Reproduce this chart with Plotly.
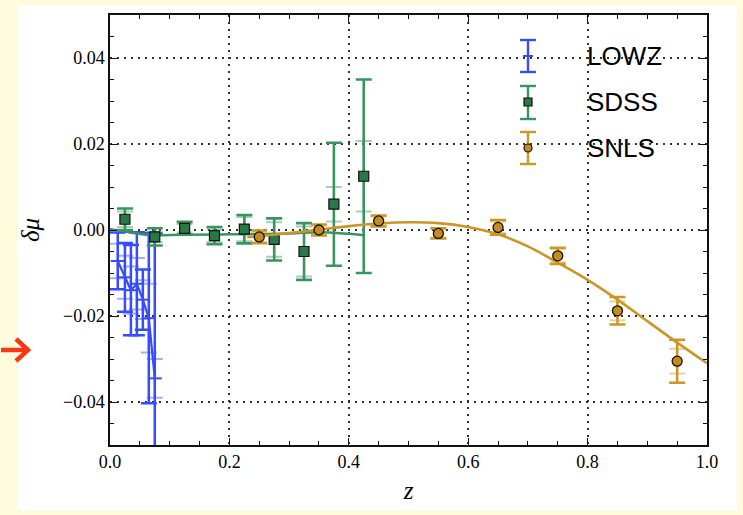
import plotly.graph_objects as go

# ---- data -------------------------------------------------------------
# LOWZ sample (binned), total and statistical error
lowz_z = [0.013, 0.025, 0.035, 0.045, 0.055, 0.065, 0.075]
lowz_dmu = [-0.0072, -0.0110, -0.0140, -0.0125, -0.0162, -0.0205, -0.0345]
lowz_err = [0.0066, 0.0080, 0.0105, 0.0120, 0.0070, 0.0198, 0.0337]
lowz_err_in = [0.0040, 0.0050, 0.0055, 0.0060, 0.0045, 0.0080, 0.0045]

# SDSS sample
sdss_z = [0.025, 0.075, 0.125, 0.175, 0.225, 0.275, 0.325, 0.375, 0.425]
sdss_dmu = [0.0025, -0.0016, 0.0004, -0.0013, 0.0002, -0.0022, -0.0050, 0.0060, 0.0125]
sdss_err = [0.0025, 0.0020, 0.0015, 0.0020, 0.0033, 0.0049, 0.0066, 0.0143, 0.0225]
sdss_err_in = [0.0018, 0.0012, 0.0010, 0.0015, 0.0028, 0.0040, 0.0058, 0.0040, 0.0082]

# SNLS sample
snls_z = [0.25, 0.35, 0.45, 0.55, 0.65, 0.75, 0.85, 0.95]
snls_dmu = [-0.0016, 0.0000, 0.0021, -0.0008, 0.0006, -0.0060, -0.0188, -0.0305]
snls_err = [0.0015, 0.0013, 0.0013, 0.0012, 0.0017, 0.0019, 0.0032, 0.0050]
snls_err_in = [0.0012, 0.0010, 0.0010, 0.0010, 0.0013, 0.0015, 0.0022, 0.0029]

# smooth model curves
sdss_fit_z = [0.0, 0.02, 0.04, 0.06, 0.08, 0.12, 0.20, 0.30, 0.35, 0.40, 0.425]
sdss_fit = [0.0002, -0.0002, -0.0007, -0.0011, -0.0012, -0.0011, -0.0010, -0.0008, -0.0005, -0.0009, -0.0012]

snls_fit_z = [0.23, 0.25, 0.30, 0.35, 0.40, 0.45, 0.50, 0.55, 0.60, 0.65,
              0.70, 0.75, 0.80, 0.85, 0.90, 0.95, 1.00]
snls_fit = [-0.0017, -0.0014, -0.0007, 0.0001, 0.0009, 0.0015, 0.0018, 0.0016, 0.0007, -0.0010,
            -0.0038, -0.0076, -0.0116, -0.0162, -0.0212, -0.0262, -0.0310]

labels = ["LOWZ", "SDSS", "SNLS"]
x_ticks = [0.0, 0.2, 0.4, 0.6, 0.8, 1.0]
y_ticks = [-0.04, -0.02, 0.00, 0.02, 0.04]

# ---- styling ----------------------------------------------------------
BLUE = "rgb(55,75,255)"
BLUE_L = "rgba(55,75,255,0.45)"
GREEN = "rgb(58,148,98)"
GREEN_L = "rgba(58,148,98,0.45)"
GREEN_FILL = "rgb(40,120,72)"
GOLD = "rgb(204,150,38)"
GOLD_L = "rgba(204,150,38,0.45)"
GOLD_FILL = "rgb(196,140,30)"

W, H = 743, 515
ML, MR, MT, MB = 110, 36, 15, 70
PW, PH = W - ML - MR, H - MT - MB


def px(x):
    return (x - ML) / PW


def py(y):
    return (MT + PH - y) / PH


fig = go.Figure()

# LOWZ
fig.add_trace(go.Scatter(
    x=lowz_z, y=lowz_dmu, mode="markers",
    marker=dict(size=1, opacity=0),
    error_y=dict(type="data", array=lowz_err_in, color=BLUE_L, thickness=2, width=8),
    showlegend=False, hoverinfo="skip"))
fig.add_trace(go.Scatter(
    x=lowz_z, y=lowz_dmu, mode="lines+markers", name=labels[0],
    line=dict(color=BLUE, width=2.2),
    marker=dict(symbol="line-ew", size=10, line=dict(color=BLUE, width=2)),
    error_y=dict(type="data", array=lowz_err, color=BLUE, thickness=2.5, width=8),
    showlegend=False))

# SDSS
fig.add_trace(go.Scatter(
    x=sdss_fit_z, y=sdss_fit, mode="lines", line=dict(color=GREEN, width=2.5, shape="spline"),
    showlegend=False, hoverinfo="skip"))
fig.add_trace(go.Scatter(
    x=sdss_z, y=sdss_dmu, mode="markers",
    marker=dict(size=1, opacity=0),
    error_y=dict(type="data", array=sdss_err_in, color=GREEN_L, thickness=2, width=8),
    showlegend=False, hoverinfo="skip"))
fig.add_trace(go.Scatter(
    x=sdss_z, y=sdss_dmu, mode="markers", name=labels[1],
    marker=dict(symbol="square", size=10, color=GREEN_FILL, line=dict(color="#111", width=1.2)),
    error_y=dict(type="data", array=sdss_err, color=GREEN, thickness=2.6, width=8),
    showlegend=False))

# SNLS
fig.add_trace(go.Scatter(
    x=snls_fit_z, y=snls_fit, mode="lines", line=dict(color=GOLD, width=2.6, shape="spline"),
    showlegend=False, hoverinfo="skip"))
fig.add_trace(go.Scatter(
    x=snls_z, y=snls_dmu, mode="markers",
    marker=dict(size=1, opacity=0),
    error_y=dict(type="data", array=snls_err_in, color=GOLD_L, thickness=2, width=8),
    showlegend=False, hoverinfo="skip"))
fig.add_trace(go.Scatter(
    x=snls_z, y=snls_dmu, mode="markers", name=labels[2],
    marker=dict(symbol="circle", size=10, color=GOLD_FILL, line=dict(color="#111", width=1.3)),
    error_y=dict(type="data", array=snls_err, color=GOLD, thickness=2.5, width=8),
    showlegend=False))

# ---- legend (drawn as error-bar keys + text) --------------------------
shapes = []
annotations = []
key_x = 528
key_rows = [(56, 40, 72, BLUE, None), (102, 86, 119, GREEN, ("rect", GREEN_FILL)),
            (148, 132, 164, GOLD, ("circle", GOLD_FILL))]
for (yc, y0, y1, col, mk), lab in zip(key_rows, labels):
    shapes.append(dict(type="line", xref="paper", yref="paper",
                       x0=px(key_x), x1=px(key_x), y0=py(y0), y1=py(y1),
                       line=dict(color=col, width=2.4)))
    for yy in (y0, y1):
        shapes.append(dict(type="line", xref="paper", yref="paper",
                           x0=px(key_x - 8), x1=px(key_x + 8), y0=py(yy), y1=py(yy),
                           line=dict(color=col, width=2.4)))
    if mk is None:
        shapes.append(dict(type="line", xref="paper", yref="paper",
                           x0=px(key_x - 5), x1=px(key_x + 5), y0=py(yc), y1=py(yc),
                           line=dict(color=col, width=2)))
    else:
        kind, fill = mk
        shapes.append(dict(type=kind, xref="paper", yref="paper",
                           x0=px(key_x - 4), x1=px(key_x + 4), y0=py(yc + 4), y1=py(yc - 4),
                           fillcolor=fill, line=dict(color="#111", width=1.2)))
    annotations.append(dict(text=lab, xref="paper", yref="paper", x=px(585), y=py(yc),
                            xanchor="left", yanchor="middle", showarrow=False,
                            font=dict(family="Liberation Sans, Arial", size=26, color="black")))

# white panel behind the plot
shapes.insert(0, dict(type="rect", xref="paper", yref="paper", layer="below",
                      x0=px(18), x1=px(737), y0=py(510), y1=py(5),
                      fillcolor="white", line=dict(width=0)))

# red pointer arrow on the left
RED = "rgb(250,55,15)"
shapes.append(dict(type="line", xref="paper", yref="paper",
                   x0=px(1), x1=px(26), y0=py(350), y1=py(350),
                   line=dict(color=RED, width=4.5)))
shapes.append(dict(type="path", xref="paper", yref="paper",
                   path=f"M {px(16)},{py(339)} L {px(28)},{py(350)} L {px(16)},{py(361)}",
                   line=dict(color=RED, width=4.5)))

tick_font = dict(family="Liberation Serif, Times New Roman", size=18, color="black")
axis_common = dict(
    showline=True, linecolor="#111", linewidth=1.5, mirror="ticks",
    ticks="inside", ticklen=7, tickwidth=1.2, tickcolor="#111",
    showgrid=True, gridcolor="#333", gridwidth=1.6, griddash="2px,5px",
    zeroline=False, tickfont=tick_font,
)

fig.update_xaxes(
    range=[0, 1], tickvals=x_ticks, tickformat=".1f",
    minor=dict(dtick=0.05, tick0=0, ticks="inside", ticklen=4, tickcolor="#111", showgrid=False),
    title=dict(text="<i>z</i>", font=dict(family="Liberation Serif, Times New Roman", size=25, color="black"),
               standoff=10),
    **axis_common)
fig.update_yaxes(
    range=[-0.05, 0.05], tickvals=y_ticks, tickformat=".2f",
    minor=dict(dtick=0.005, tick0=0, ticks="inside", ticklen=4, tickcolor="#111", showgrid=False),
    title=dict(text="<i>δμ</i>", font=dict(family="Liberation Serif, Times New Roman", size=25, color="black"),
               standoff=16),
    **axis_common)

fig.update_layout(
    width=W, height=H, autosize=False,
    margin=dict(l=ML, r=MR, t=MT, b=MB, pad=0),
    paper_bgcolor="#FFFCDD", plot_bgcolor="white",
    shapes=shapes, annotations=annotations, showlegend=False,
)

fig.write_html("out.html")
